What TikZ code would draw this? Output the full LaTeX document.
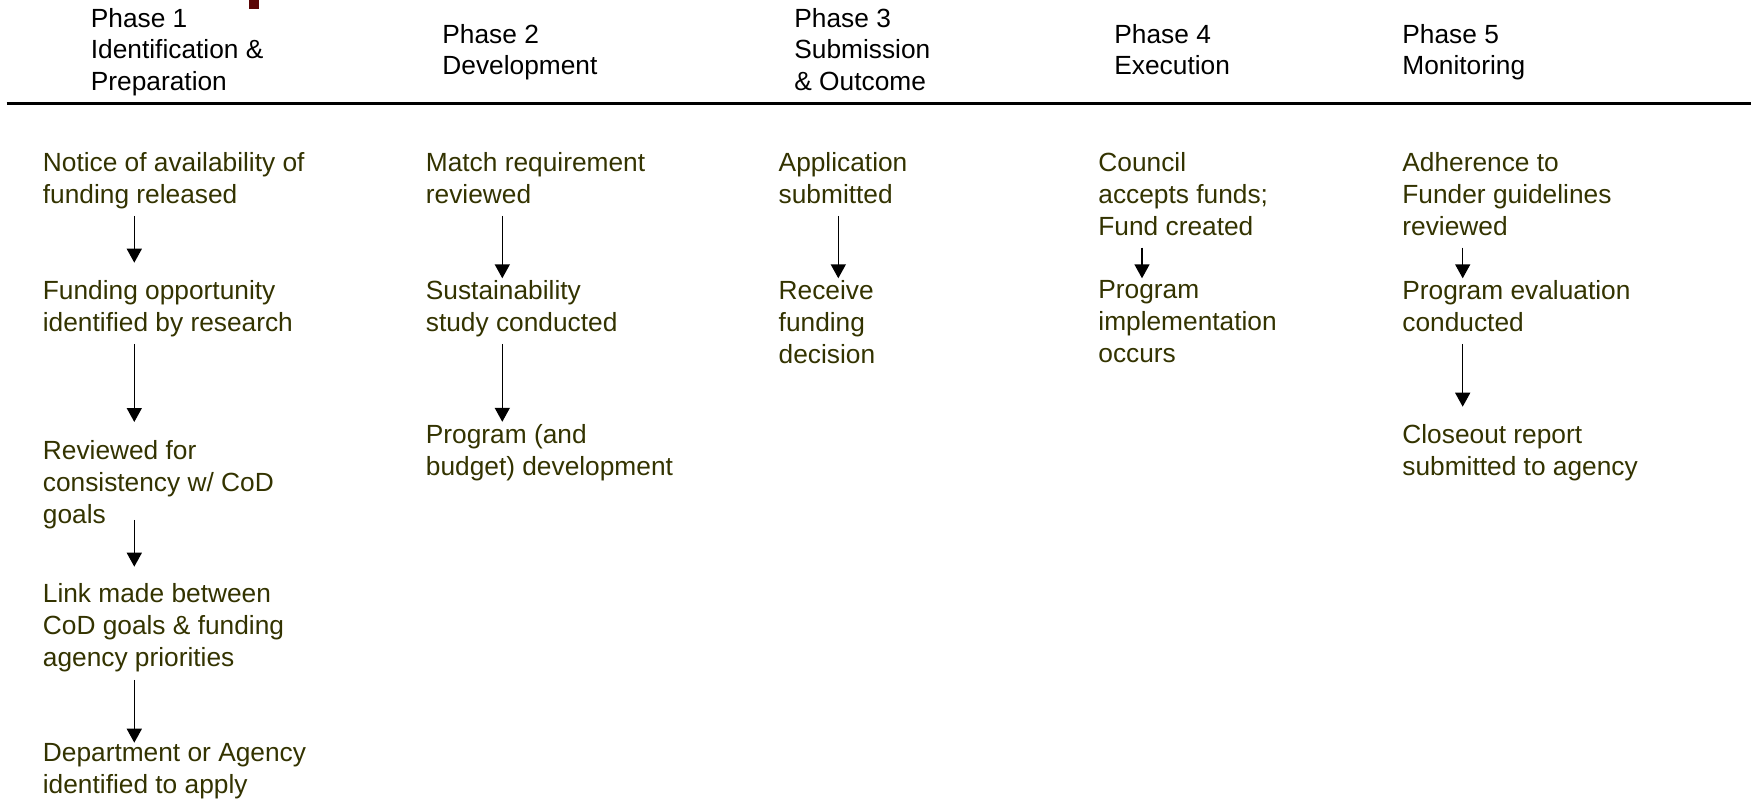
\documentclass[tikz,border=0pt]{standalone}
\usepackage{fontspec}
\setmainfont{Liberation Sans}
\usetikzlibrary{arrows.meta}
\definecolor{itemolive}{RGB}{51,51,0}
\definecolor{markred}{RGB}{90,5,5}
\tikzset{
  phase/.style={anchor=north west,inner sep=0pt,align=left,
    font=\fontsize{13.15}{15.85}\selectfont,
    execute at end node=\strut},
  item/.style={phase,text=itemolive},
  flow/.style={-{Triangle[width=7.5pt,length=7pt]},line width=0.75pt,
    shorten <=1.15pt,shorten >=1.1pt}
}
\begin{document}
\begin{tikzpicture}[x=0.5pt,y=-0.5pt]
  \useasboundingbox (0,0) rectangle (1751,802);
  \fill[markred] (249,0) rectangle (259,9);
  % phase headings
  \node[phase] (h1) at (90.5,7.7) {Phase 1\\Identification \&\\Preparation};
  \node[phase] (h2) at (442,23.7) {Phase 2\\Development};
  \node[phase] (h3) at (794,7.7) {Phase 3\\Submission\\\& Outcome};
  \node[phase] (h4) at (1114,23.7) {Phase 4\\Execution};
  \node[phase] (h5) at (1402,23.7) {Phase 5\\Monitoring};
  \draw[line width=1.3pt] (6.7,103.5) -- (1751,103.5);
  % arrow columns
  \coordinate (c1) at (134.3,0);
  \coordinate (c2) at (502.3,0);
  \coordinate (c3) at (838.3,0);
  \coordinate (c4) at (1142,0);
  \coordinate (c5) at (1462.7,0);
  % phase 1
  \node[item] (n11) at (42.5,152.5) {Notice of availability of\\funding released};
  \node[item] (n12) at (42.5,280.5) {Funding opportunity\\identified by research};
  \node[item] (n13) at (42.5,440.3) {Reviewed for\\consistency w/ CoD\\goals};
  \node[item] (n14) at (42.5,583.5) {Link made between\\CoD goals \& funding\\agency priorities};
  \node[item] (n15) at (42.5,743) {Department or Agency\\identified to apply};
  % phase 2
  \node[item] (n21) at (425.5,152.5) {Match requirement\\reviewed};
  \node[item] (n22) at (425.5,280.5) {Sustainability\\study conducted};
  \node[item] (n23) at (425.5,424) {Program (and\\budget) development};
  % phase 3
  \node[item] (n31) at (778.3,152.5) {Application\\submitted};
  \node[item] (n32) at (778.3,280.5) {Receive\\funding\\decision};
  % phase 4
  \node[item] (n41) at (1098,152.5) {Council\\accepts funds;\\Fund created};
  \node[item] (n42) at (1098,280.5) {Program\\implementation\\occurs};
  % phase 5
  \node[item] (n51) at (1402,152.5) {Adherence to\\Funder guidelines\\reviewed};
  \node[item] (n52) at (1402,280.5) {Program evaluation\\conducted};
  \node[item] (n53) at (1402,424) {Closeout report\\submitted to agency};
  % arrows
  \draw[flow,shorten >=8.9pt] (n11.south -| c1) -- (n12.north -| c1);
  \draw[flow,shorten >=9.15pt] (n12.south -| c1) -- (n13.north -| c1);
  \draw[flow,shorten <=-6.6pt,shorten >=8.4pt] (n13.south -| c1) -- (n14.north -| c1);
  \draw[flow,shorten <=1.8pt,shorten >=0.15pt] (n14.south -| c1) -- (n15.north -| c1);
  \draw[flow] (n21.south -| c2) -- (n22.north -| c2);
  \draw[flow] (n22.south -| c2) -- (n23.north -| c2);
  \draw[flow] (n31.south -| c3) -- (n32.north -| c3);
  \draw[flow] (n41.south -| c4) -- (n42.north -| c4);
  \draw[flow] (n51.south -| c5) -- (n52.north -| c5);
  \draw[flow,shorten >=8.65pt] (n52.south -| c5) -- (n53.north -| c5);
\end{tikzpicture}
\end{document}
